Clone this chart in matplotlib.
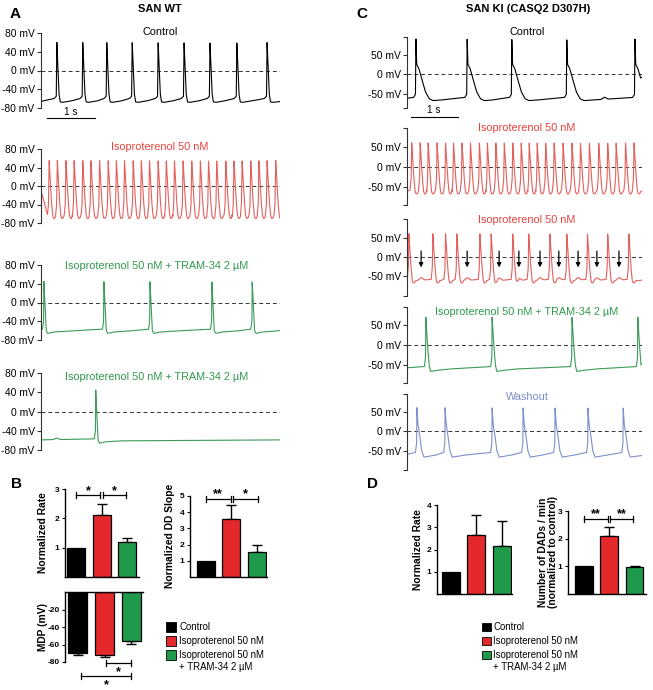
import numpy as np
import matplotlib
matplotlib.use("Agg")
import matplotlib.pyplot as plt
from matplotlib.patches import Rectangle

plt.rcParams['font.family'] = ['Liberation Sans', 'DejaVu Sans']

W, H = 653, 690

# colours
RED = '#e3292b'
GREEN = '#1f9a4a'
TR_RED = '#e4605c'
TR_GREEN = '#3b9b58'
TR_BLUE = '#7d8fcc'
T_RED = '#e8413c'
T_GREEN = '#2f9a4c'
T_BLUE = '#7a8cc8'

# ---- panel A spike times (s) ----
a_ctrl_spk = [0.33, 0.87, 1.37, 1.90, 2.44, 2.98, 3.52, 4.08, 4.71]
a_iso_spk = [0.17, 0.34, 0.52, 0.69, 0.87, 1.04, 1.22, 1.40, 1.57, 1.74, 1.92, 2.09,
             2.26, 2.44, 2.61, 2.78, 2.96, 3.14, 3.32, 3.49, 3.66, 3.85, 4.02, 4.19,
             4.37, 4.54, 4.71, 4.89]
a_tram1_spk = [0.06, 1.31, 2.27, 3.56, 4.40]
a_tram2_spk = [1.14]
a_tram2_bumps = [0.33]

# ---- panel C spike times (s) ----
c_ctrl_spk = [0.19, 1.28, 2.23, 3.40, 4.85]
c_ctrl_bumps = [4.2]
c_iso_spk = [0.10, 0.28, 0.45, 0.64, 0.82, 0.99, 1.17, 1.35, 1.54, 1.71, 1.89, 2.07,
             2.25, 2.43, 2.60, 2.77, 2.95, 3.13, 3.32, 3.51, 3.69, 3.88, 4.08, 4.27,
             4.45, 4.65, 4.83]
c_dad_spk = [0.04, 0.55, 0.82, 1.06, 1.55, 1.79, 2.25, 2.59, 3.04, 3.40, 3.84, 4.27, 4.72]
c_dad_arrows = [0.30, 1.28, 1.96, 2.38, 2.83, 3.23, 3.64, 4.04, 4.51]
c_tram_spk = [0.40, 1.81, 3.51, 4.91]
c_wash_spk = [0.21, 0.81, 1.81, 2.47, 3.15, 3.85, 4.60]

# action potential shapes: (time from peak s, mV)
shape_a_ctrl = [(-0.06, -60), (-0.012, -55), (0, 60), (0.02, 10), (0.045, -50), (0.07, -67),
                (0.12, -68), (0.3, -65)]
shape_a_iso = [(-0.035, -62), (-0.015, -40), (0, 55), (0.02, 20), (0.045, -30), (0.07, -62),
               (0.09, -70), (0.115, -70), (0.135, -66)]
shape_a_tram = [(-0.03, -57), (-0.006, -40), (0, 45), (0.025, -10), (0.05, -60), (0.08, -66),
                (0.2, -63), (0.5, -61)]
shape_c_ctrl = [(-0.05, -60), (-0.01, -52), (0, 90), (0.015, 25), (0.06, 15), (0.12, -10),
                (0.2, -45), (0.28, -63), (0.36, -68), (0.5, -67)]
shape_c_iso = [(-0.035, -58), (-0.012, -30), (0, 60), (0.02, 25), (0.045, -25), (0.07, -60),
               (0.09, -67), (0.12, -67), (0.14, -62)]
shape_c_tram = [(-0.03, -54), (-0.005, -30), (0, 70), (0.03, 10), (0.07, -50), (0.1, -66),
                (0.2, -64), (0.5, -60)]
shape_c_wash = [(-0.03, -55), (-0.005, -30), (0, 60), (0.02, 20), (0.06, -10), (0.1, -50),
                (0.15, -67), (0.25, -65), (0.4, -62)]

# ---- bar data ----
groups = ['Control', 'Isoproterenol 50 nM', 'Isoproterenol 50 nM\n+ TRAM-34 2 µM']
bar_colors = ['#000000', RED, GREEN]
b_rate = [1.0, 2.1, 1.2]
b_rate_err = [0, 0.39, 0.13]
b_dd = [1.0, 3.6, 1.55]
b_dd_err = [0, 0.85, 0.43]
b_mdp = [-69.5, -72.2, -55.8]
b_mdp_err = [2.5, 2.3, 3.8]
d_rate = [1.0, 2.65, 2.17]
d_rate_err = [0, 0.9, 1.13]
d_dad = [1.0, 2.1, 0.98]
d_dad_err = [0, 0.32, 0.04]


def build_trace(t, spikes, shape, v0, bumps=(), bump_amp=5.0):
    kt, kv = [t[0]], [v0]
    for ts in spikes:
        for dt, v in shape:
            if t[0] < ts + dt < t[-1]:
                kt.append(ts + dt)
                kv.append(v)
    kt.append(t[-1])
    kv.append(kv[-1] + 2)
    order = np.argsort(kt)
    v = np.interp(t, np.array(kt)[order], np.array(kv)[order])
    for tb in bumps:
        v += bump_amp * np.exp(-((t - tb) / 0.05) ** 2)
    return v


def box(x0, y0, x1, y1):
    return fig.add_axes([x0 / W, 1 - y1 / H, (x1 - x0) / W, (y1 - y0) / H])


def trace_axes(x0, y0, x1, y1, ylim, ticks, labels, tmax):
    ax = box(x0, y0, x1, y1)
    ax.set_xlim(0, tmax)
    ax.set_ylim(*ylim)
    for s in ['top', 'right', 'bottom']:
        ax.spines[s].set_visible(False)
    ax.spines['left'].set_linewidth(0.8)
    ax.spines['left'].set_color('#333333')
    ax.set_xticks([])
    ax.set_yticks(ticks)
    ax.set_yticklabels(labels)
    ax.tick_params(axis='y', length=3, width=0.8, labelsize=7.4, pad=1.5, color='#333333')
    ax.axhline(0, ls=(0, (4, 3)), lw=0.7, color='#333333')
    ax.patch.set_alpha(0)
    return ax


def bar_axes(x0, y0, x1, y1, xlim, ylim, ticks):
    ax = box(x0, y0, x1, y1)
    ax.set_xlim(*xlim)
    ax.set_ylim(*ylim)
    for s in ['top', 'right']:
        ax.spines[s].set_visible(False)
    for s in ['left', 'bottom', 'top']:
        ax.spines[s].set_linewidth(1.0)
    ax.set_xticks([])
    ax.set_yticks(ticks)
    ax.set_yticklabels([str(v) for v in ticks])
    ax.tick_params(axis='y', length=2.5, width=0.8, labelsize=6, pad=1.5)
    for lab in ax.get_yticklabels():
        lab.set_fontweight('bold')
    ax.patch.set_alpha(0)
    return ax


def draw_bars(ax, vals, errs, down=False):
    x = np.arange(len(vals))
    ax.bar(x, vals, width=0.7, color=bar_colors, edgecolor='k', linewidth=0.9, zorder=2)
    for xi, v, e in zip(x, vals, errs):
        if e <= 0:
            continue
        yerr = [[e], [0]] if down else [[0], [e]]
        ax.errorbar([xi], [v], yerr=yerr, fmt='none', ecolor='k', elinewidth=1.0,
                    capsize=3.5, capthick=1.0, zorder=1)


def bracket(ax, x0, x1, y, text, below=False):
    y0, y1 = ax.get_ylim()
    hpx = ax.get_position().height * H
    unit = abs(y1 - y0) / hpx
    c = unit * 3
    kw = dict(color='k', lw=0.9, clip_on=False)
    ax.plot([x0, x1], [y, y], **kw)
    ax.plot([x0, x0], [y - c, y + c], **kw)
    ax.plot([x1, x1], [y - c, y + c], **kw)
    if below:
        ax.text((x0 + x1) / 2, y - unit * 9, text, ha='center', va='center', fontsize=9,
                fontweight='bold', clip_on=False)
    else:
        ax.text((x0 + x1) / 2, y - unit * 1.6, text, ha='center', va='bottom', fontsize=9,
                fontweight='bold', clip_on=False)


fig = plt.figure(figsize=(W / 100, H / 100), dpi=100)
ann = fig.add_axes([0, 0, 1, 1])
ann.set_xlim(0, W)
ann.set_ylim(H, 0)
ann.axis('off')

t = np.linspace(0, 5.0, 6000)

# ---------------- Panel A ----------------
a_ticks = [-80, -40, 0, 40, 80]
a_labels = ['-80 mV', '-40 mV', '0 mV', '40 mV', '80 mV']
tA = 239 / 48
ax = trace_axes(41, 33, 280, 108, (-80, 80), a_ticks, a_labels, tA)
ax.plot(t, build_trace(t, a_ctrl_spk, shape_a_ctrl, -66), color='k', lw=0.8)
ax = trace_axes(41, 149, 280, 223, (-80, 80), a_ticks, a_labels, tA)
ax.plot(t, build_trace(t, a_iso_spk, shape_a_iso, -10), color=TR_RED, lw=0.8)
ax = trace_axes(41, 265, 280, 340, (-80, 80), a_ticks, a_labels, tA)
ax.plot(t, build_trace(t, a_tram1_spk, shape_a_tram, -55), color=TR_GREEN, lw=0.8)
ax = trace_axes(41, 373, 280, 450, (-80, 80), a_ticks, a_labels, tA)
ax.plot(t, build_trace(t, a_tram2_spk, shape_a_tram, -59, a_tram2_bumps, 3), color=TR_GREEN, lw=0.8)

# ---------------- Panel C ----------------
c_ticks_lab = ['-50 mV', '0 mV', '50 mV']
c_specs = [
    (37, 108, (-87, 95), c_ctrl_spk, shape_c_ctrl, -62, c_ctrl_bumps, 'k'),
    (128, 205, (-95, 97), c_iso_spk, shape_c_iso, -60, (), TR_RED),
    (219, 296, (-101, 98), c_dad_spk, shape_c_iso, -60, c_dad_arrows, TR_RED),
    (307, 383, (-95, 95), c_tram_spk, shape_c_tram, -57, (), TR_GREEN),
    (394, 470, (-100, 95), c_wash_spk, shape_c_wash, -60, (), TR_BLUE),
]
for i, (ya, yb, lim, spk, shp, v0, bumps, col) in enumerate(c_specs):
    ax = trace_axes(407, ya, 642, yb, lim, [lim[0], -50, 0, 50, lim[1]],
                    [''] + c_ticks_lab + [''], 5.0)
    amp = 7 if i == 2 else 5
    ax.plot(t, build_trace(t, spk, shp, v0, bumps, amp), color=col, lw=0.8)
    if i == 2:
        for ta in c_dad_arrows:
            ax.annotate('', xy=(ta, -27), xytext=(ta, 15),
                        arrowprops=dict(arrowstyle='-|>', color='k', lw=0.9,
                                        mutation_scale=6, shrinkA=0, shrinkB=0))

# ---------------- Panel B ----------------
ax = bar_axes(65, 489, 139, 577, (-0.43, 2.45), (0, 3), [1, 2, 3])
draw_bars(ax, b_rate, b_rate_err)
bracket(ax, 0, 0.95, 2.79, '*')
bracket(ax, 1.03, 1.95, 2.79, '*')

ax = bar_axes(190, 496, 267, 577, (-0.61, 2.4), (0, 5), [1, 2, 3, 4, 5])
draw_bars(ax, b_dd, b_dd_err)
bracket(ax, 0, 0.98, 4.84, '**')
bracket(ax, 1.06, 2.04, 4.84, '*')

ax = bar_axes(65, 592, 143, 662, (-0.48, 2.43), (-80, 0), [-80, -60, -40, -20])
ax.spines['top'].set_visible(True)
ax.spines['bottom'].set_visible(False)
draw_bars(ax, b_mdp, b_mdp_err, down=True)
bracket(ax, 1.05, 2.0, -81, '*', below=True)
bracket(ax, 0.1, 2.0, -96, '*', below=True)

# ---------------- Panel D ----------------
ax = bar_axes(437, 505, 512, 594, (-0.53, 2.4), (0, 4), [1, 2, 3, 4])
draw_bars(ax, d_rate, d_rate_err)

ax = bar_axes(568, 511, 646, 594, (-0.62, 2.45), (0, 3), [1, 2, 3])
draw_bars(ax, d_dad, d_dad_err)
bracket(ax, 0, 0.95, 2.71, '**')
bracket(ax, 1.05, 1.95, 2.71, '**')

# ---------------- text annotations ----------------
bold = dict(fontweight='bold', ha='center', va='center')
ann.text(15, 14, 'A', fontsize=11, **bold)
ann.text(17, 484, 'B', fontsize=11, **bold)
ann.text(362, 14, 'C', fontsize=11, **bold)
ann.text(373, 484, 'D', fontsize=11, **bold)
ann.text(160, 9, 'SAN WT', fontsize=8, **bold)
ann.text(528, 9, 'SAN KI (CASQ2 D307H)', fontsize=8, **bold)

tkw = dict(ha='center', va='center', fontsize=7.8)
ann.text(160, 32, 'Control', color='k', **tkw)
ann.text(160, 147, 'Isoproterenol 50 nM', color=T_RED, **tkw)
ann.text(157, 266, 'Isoproterenol 50 nM + TRAM-34 2 µM', color=T_GREEN, **tkw)
ann.text(157, 377, 'Isoproterenol 50 nM + TRAM-34 2 µM', color=T_GREEN, **tkw)
ann.text(527, 32, 'Control', color='k', **tkw)
ann.text(527, 128, 'Isoproterenol 50 nM', color=T_RED, **tkw)
ann.text(527, 220, 'Isoproterenol 50 nM', color=T_RED, **tkw)
ann.text(527, 312, 'Isoproterenol 50 nM + TRAM-34 2 µM', color=T_GREEN, **tkw)
ann.text(527, 397, 'Washout', color=T_BLUE, **tkw)

# scale bars
ann.plot([47, 95], [118, 118], color='k', lw=0.8)
ann.text(71, 112, '1 s', ha='center', va='center', fontsize=7.2)
ann.plot([411, 458], [117, 117], color='k', lw=0.8)
ann.text(434, 110, '1 s', ha='center', va='center', fontsize=7.2)

# y labels of bar charts
ykw = dict(rotation=90, ha='center', va='center', fontsize=7.4, fontweight='bold')
ann.text(43, 533, 'Normalized Rate', **ykw)
ann.text(170, 536, 'Normalized DD Slope', **ykw)
ann.text(43, 627, 'MDP (mV)', **ykw)
ann.text(418, 550, 'Normalized Rate', **ykw)
ann.text(548, 552, 'Number of DADs / min\n(normalized to control)', multialignment='center',
         linespacing=1.1, **ykw)


# legends
def legend(x, y0, dy, size, tx):
    ys = [y0, y0 + dy, y0 + 2 * dy]
    for lab, col, y in zip(groups, bar_colors, ys):
        ann.add_patch(Rectangle((x, y - size / 2), size, size, facecolor=col,
                                edgecolor='k', lw=0.6))
        ann.text(x + tx, y - 5 if '\n' in lab else y, lab, ha='left',
                 va='top' if '\n' in lab else 'center', fontsize=6.9,
                 linespacing=1.25)


legend(166, 627, 14, 9.5, 13)
legend(482, 627, 14, 8.5, 11)

fig.savefig('out.png', dpi=100)
